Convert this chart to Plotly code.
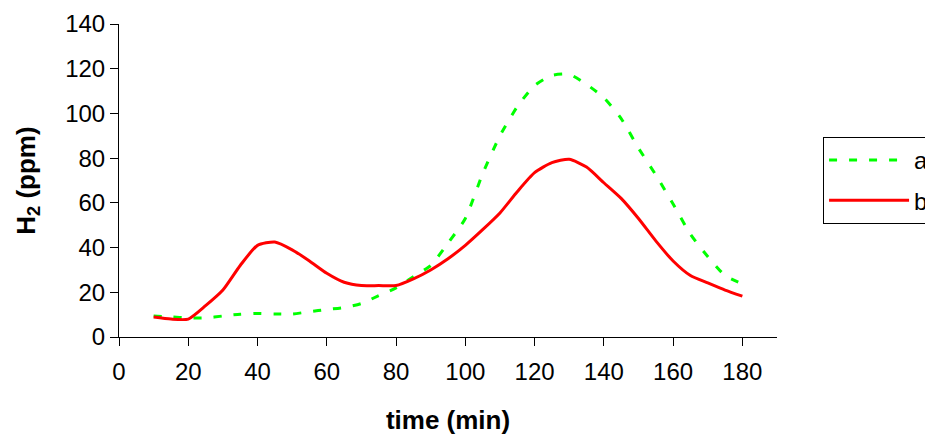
import plotly.graph_objects as go

time_min = [10, 15, 20, 25, 30, 35, 40, 45, 50, 55, 60, 65, 70, 75, 80, 85, 90,
            95, 100, 105, 110, 115, 120, 125, 130, 135, 140, 145, 150, 155, 160,
            165, 170, 175, 180]
series_a = [9.4, 9.0, 8.5, 8.5, 9.4, 10.2, 10.5, 10.3, 10.3, 11.3, 12.3, 13.2,
            15.0, 18.5, 22.0, 27.0, 32.0, 42.0, 53.0, 73.0, 90.0, 103.0, 112.5,
            117.0, 117.5, 113.0, 107.0, 97.7, 84.5, 72.5, 59.5, 46.0, 36.0, 27.5,
            23.7]
series_b = [8.9, 8.0, 8.0, 14.0, 21.0, 32.0, 41.0, 42.5, 39.0, 34.0, 28.5, 24.5,
            23.0, 23.0, 23.0, 26.0, 30.0, 35.0, 41.0, 48.0, 55.5, 65.0, 73.5,
            78.0, 79.5, 76.0, 69.0, 62.0, 53.0, 43.0, 34.0, 27.5, 24.2, 21.0,
            18.3]
x_ticks = [0, 20, 40, 60, 80, 100, 120, 140, 160, 180]
y_ticks = [0, 20, 40, 60, 80, 100, 120, 140]

FONT = "Arial, Liberation Sans, sans-serif"

fig = go.Figure()
fig.add_trace(go.Scatter(
    x=time_min, y=series_a, name="a", mode="lines", legendgroup="a",
    line=dict(color="#00ff00", width=3, dash="8px,12px", shape="spline", smoothing=0.6),
))
fig.add_trace(go.Scatter(
    x=time_min, y=series_b, name="b", mode="lines", legendgroup="b",
    line=dict(color="#ff0000", width=3, shape="spline", smoothing=0.6),
))

axis_common = dict(
    showline=True, linecolor="black", linewidth=1, ticks="outside", ticklen=8,
    tickcolor="black", tickwidth=1, showgrid=False, zeroline=False,
    tickfont=dict(family=FONT, size=24, color="black"),
)

fig.update_layout(
    width=925, height=435,
    margin=dict(l=119, r=148, t=24, b=98, autoexpand=False),
    plot_bgcolor="white", paper_bgcolor="white",
    xaxis=dict(range=[0, 190], tickvals=x_ticks, ticklabelstandoff=5,
               title=dict(text="<b>time (min)</b>", standoff=28,
                          font=dict(family=FONT, size=26, color="black")),
               **axis_common),
    yaxis=dict(range=[0, 140], tickvals=y_ticks,
               title=dict(text="<b>H<sub>2</sub> (ppm)</b>", standoff=22,
                          font=dict(family=FONT, size=26, color="black")),
               **axis_common),
    legend=dict(x=1.07, xanchor="left", y=0.639, yanchor="top",
                bordercolor="black", borderwidth=1, bgcolor="white",
                font=dict(family=FONT, size=24, color="black"),
                itemwidth=80, traceorder="grouped", tracegroupgap=6),
    showlegend=True,
)

fig.write_html("out.html", config={"displayModeBar": False},
               post_script="document.body.style.margin='0';document.body.style.overflow='hidden';")
